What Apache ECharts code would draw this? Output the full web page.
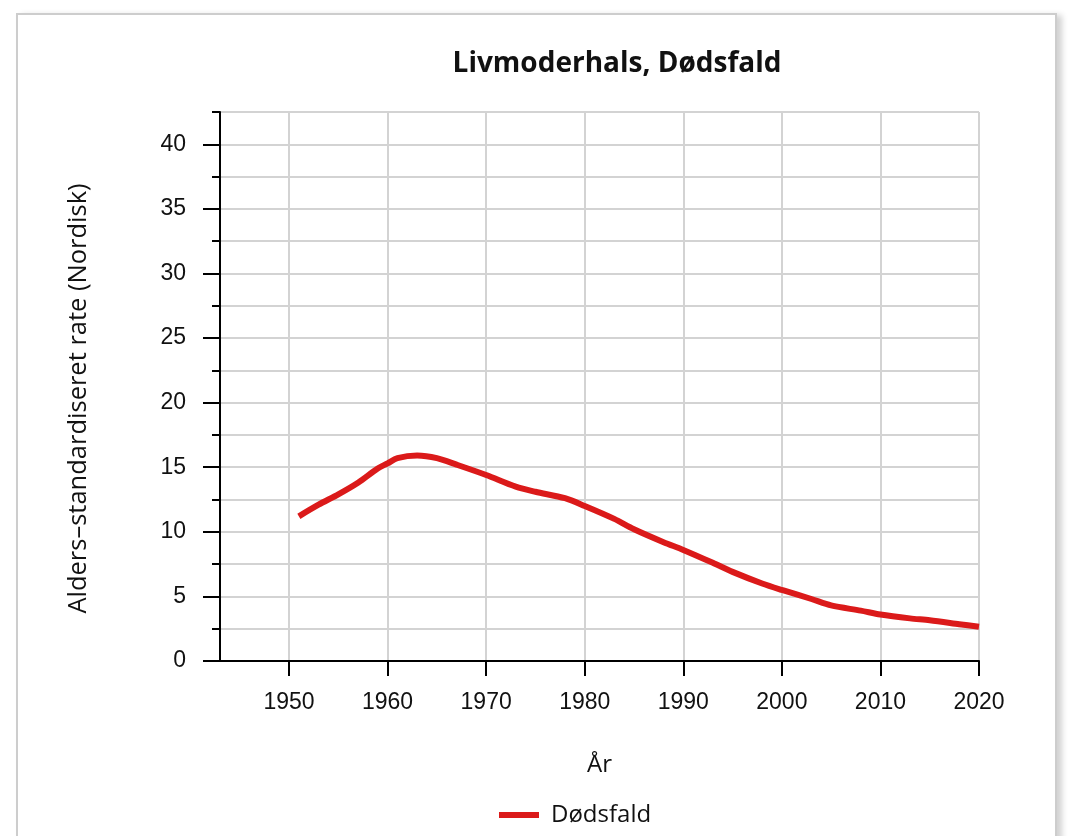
<!DOCTYPE html>
<html>
<head>
<meta charset="utf-8">
<script src="https://cdn.jsdelivr.net/npm/echarts@6/dist/echarts.min.js"></script>
<style>
  html, body { margin: 0; padding: 0; background: #fff; width: 1074px; height: 836px; overflow: hidden; }
  #card { position: absolute; left: 16px; top: 13px; width: 1037px; height: 900px; border: 2px solid #cdcdcd; box-shadow: 5px 2px 6px rgba(0,0,0,0.18); background: #fff; }
  #chart { position: absolute; left: 0; top: 0; width: 1074px; height: 836px; }
</style>
</head>
<body>
<div id="card"></div>
<div id="chart"></div>
<script>
const titleText = 'Livmoderhals, Dødsfald';
const xAxisName = 'År';
const yAxisName = 'Alders\u2013standardiseret rate (Nordisk)';
const seriesName = 'Dødsfald';

const years = [1951, 1953, 1955, 1957, 1959, 1960, 1961, 1963, 1965, 1967, 1970, 1973, 1975, 1978, 1980, 1983, 1985, 1988, 1990, 1993, 1995, 1998, 2000, 2003, 2005, 2008, 2010, 2013, 2015, 2018, 2020];
const deaths = [11.2, 12.1, 12.9, 13.8, 14.9, 15.3, 15.7, 15.9, 15.7, 15.2, 14.4, 13.5, 13.1, 12.6, 12.0, 11.0, 10.2, 9.2, 8.6, 7.6, 6.9, 6.0, 5.5, 4.8, 4.3, 3.9, 3.6, 3.3, 3.15, 2.85, 2.65];

const xTicks = [1950, 1960, 1970, 1980, 1990, 2000, 2010, 2020];
const yMajorTicks = [0, 5, 10, 15, 20, 25, 30, 35, 40];
const yMinorTicks = [0, 2.5, 5, 7.5, 10, 12.5, 15, 17.5, 20, 22.5, 25, 27.5, 30, 32.5, 35, 37.5, 40, 42.5];

const chart = echarts.init(document.getElementById('chart'), null, { renderer: 'canvas' });
const tickFont = 'Liberation Sans, Arial, sans-serif';
const textFont = 'Open Sans, Noto Sans, sans-serif';

chart.setOption({
  backgroundColor: 'transparent',
  animation: false,
  title: {
    text: titleText,
    left: 612, top: 45, textAlign: 'center',
    textStyle: { fontFamily: textFont, fontWeight: 'bold', fontSize: 28, color: '#111' }
  },
  legend: {
    data: [{ name: seriesName, icon: 'rect' }],
    left: 499, top: 803, padding: 0,
    itemWidth: 40, itemHeight: 6,
    textStyle: { fontFamily: textFont, fontSize: 24, color: '#111', padding: [0, 0, 0, 7] }
  },
  grid: { left: 220, right: 95, top: 112, bottom: 175, containLabel: false },
  xAxis: {
    type: 'value', min: 1943, max: 2020,
    name: xAxisName, nameLocation: 'middle', nameGap: 92,
    nameTextStyle: { fontFamily: textFont, fontSize: 24, color: '#111' },
    axisLine: { show: true, onZero: false, lineStyle: { color: '#000', width: 2 } },
    axisTick: { show: true, length: 15, customValues: xTicks, lineStyle: { color: '#000', width: 2 } },
    axisLabel: { customValues: xTicks, margin: 30, fontFamily: tickFont, fontSize: 23, color: '#111', formatter: v => String(v) },
    splitLine: { show: true, lineStyle: { color: '#d3d3d3', width: 2 } }
  },
  yAxis: [{
    type: 'value', min: 0, max: 42.5,
    name: yAxisName, nameLocation: 'middle', nameGap: 128,
    nameTextStyle: { fontFamily: textFont, fontSize: 25.5, color: '#111', padding: [0, 0, 0, -24] },
    axisLine: { show: true, lineStyle: { color: '#000', width: 2 } },
    axisTick: { show: true, length: 8, customValues: yMinorTicks, lineStyle: { color: '#000', width: 2 } },
    axisLabel: { show: false },
    splitLine: { show: true, lineStyle: { color: '#d3d3d3', width: 2 } }
  }, {
    type: 'value', min: 0, max: 42.5, position: 'left',
    axisLine: { show: false },
    axisTick: { show: true, length: 17, customValues: yMajorTicks, lineStyle: { color: '#000', width: 2 } },
    axisLabel: { customValues: yMajorTicks, margin: 34, fontFamily: tickFont, fontSize: 23, color: '#111' },
    splitLine: { show: false }
  }],
  series: [{
    name: seriesName, type: 'line', smooth: 0.3, showSymbol: false,
    data: years.map((y, i) => [y, deaths[i]]),
    lineStyle: { color: '#db1a1a', width: 6 },
    itemStyle: { color: '#db1a1a' }
  }]
});
</script>
</body>
</html>
